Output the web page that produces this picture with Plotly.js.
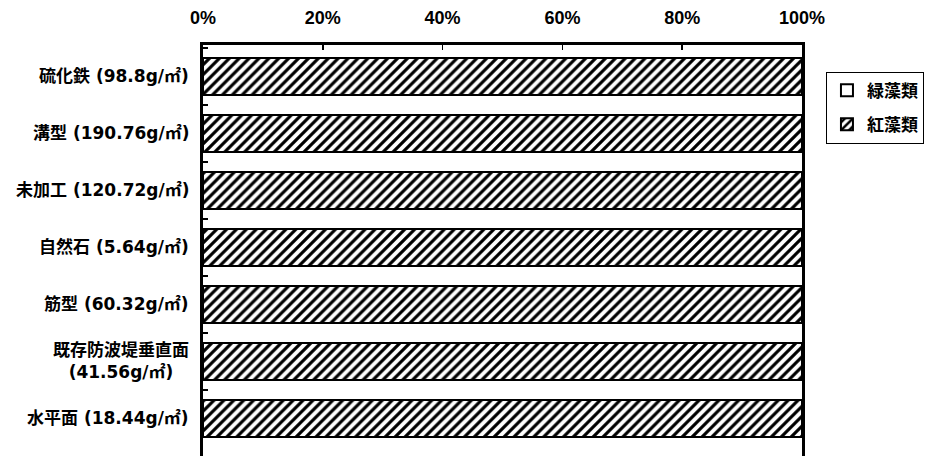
<!DOCTYPE html>
<html>
<head>
<meta charset="utf-8">
<script src="https://cdn.plot.ly/plotly-3.0.1.min.js"></script>
<style>html,body{margin:0;padding:0;background:#fff;}#chart{width:925px;height:456px;}</style>
</head>
<body>
<div id="chart"></div>
<script>
const categories = ['硫化鉄 (98.8g/㎡)', '溝型 (190.76g/㎡)', '未加工 (120.72g/㎡)', '自然石 (5.64g/㎡)', '筋型 (60.32g/㎡)', '既存防波堤垂直面<br>(41.56g/㎡)', '水平面 (18.44g/㎡)'];
const greenAlgae = [0, 0, 0, 0, 0, 0, 0];
const redAlgae = [100, 100, 100, 100, 100, 100, 100];
const seriesNames = ['緑藻類', '紅藻類'];
const xTicks = [0, 20, 40, 60, 80, 100];

const CJK = '"Noto Sans CJK JP", "Noto Sans", sans-serif';
const LABEL = '"DejaVu Sans", "Noto Sans CJK JP", sans-serif';
const TICK = '"Liberation Sans Narrow", "Liberation Sans", Arial, sans-serif';

const traces = [
  {
    type: 'bar', orientation: 'h', name: seriesNames[0], y: categories, x: greenAlgae,
    legendgroup: 'g',
    marker: {color: '#ffffff', line: {color: '#000', width: 2}},
    width: 0.65
  },
  {
    type: 'bar', orientation: 'h', name: seriesNames[1], y: categories, x: redAlgae,
    legendgroup: 'r',
    marker: {color: '#ffffff', line: {color: '#000', width: 2},
      pattern: {shape: '/', fgcolor: '#000', bgcolor: '#fff', size: 7, solidity: 0.45}},
    width: 0.65
  }
];

const annotations = categories.map(c => ({
  xref: 'paper', yref: 'y', x: -0.02, y: c, text: c,
  xanchor: 'right', yanchor: 'middle', align: 'center', showarrow: false,
  font: {family: LABEL, size: 17, color: '#000', weight: 'bold'}
}));

const layout = {
  width: 925, height: 456,
  margin: {l: 203, r: 123, t: 45, b: 0, pad: 0},
  paper_bgcolor: '#fff', plot_bgcolor: '#fff',
  barmode: 'stack',
  showlegend: true,
  legend: {
    x: 1.04, y: 0.935, xanchor: 'left', yanchor: 'top',
    bordercolor: '#000', borderwidth: 1, bgcolor: '#fff',
    traceorder: 'grouped', tracegroupgap: 9, itemwidth: 30,
    font: {family: CJK, size: 17, color: '#000', weight: 'bold'}
  },
  xaxis: {
    side: 'top', range: [0, 100], tickvals: xTicks, ticktext: xTicks.map(v => v + '%'),
    ticks: 'inside', ticklen: 5, tickwidth: 1.5, tickcolor: '#000',
    showgrid: false, zeroline: false, showline: true, linecolor: '#000', linewidth: 3,
    ticklabelstandoff: 11,
    tickfont: {family: TICK, size: 18, color: '#000', weight: 'bold'}
  },
  yaxis: {
    type: 'category', range: [6.66, -0.55],
    showticklabels: false, ticks: 'inside', ticklen: 5, tickwidth: 1.5, tickcolor: '#000',
    tickson: 'boundaries',
    showgrid: false, zeroline: false, showline: true, mirror: true, linecolor: '#000', linewidth: 3
  },
  annotations: annotations
};

Plotly.newPlot('chart', traces, layout, {displayModeBar: false, staticPlot: true});
</script>
</body>
</html>
